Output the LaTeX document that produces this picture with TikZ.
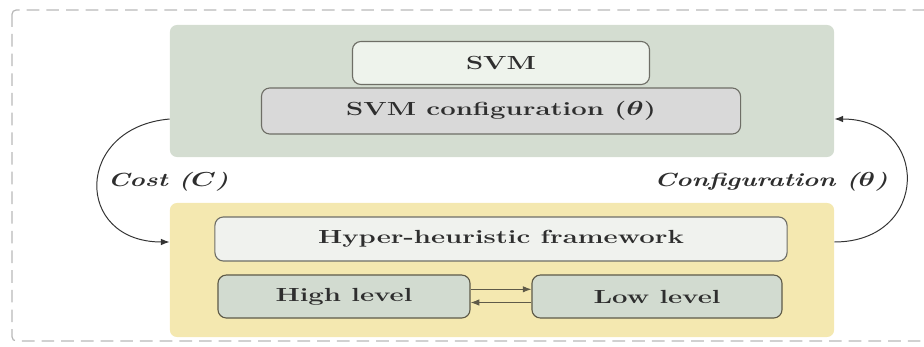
\documentclass[tikz,border=0pt]{standalone}
\usepackage{amsmath,amssymb}
\usepackage{xcolor}
\usepackage{tikz}
\usetikzlibrary{arrows.meta,positioning,calc}
\definecolor{SvmGreen}{HTML}{D4DDD1}
\definecolor{HhYellow}{HTML}{F4E8B0}
\definecolor{SvmFill}{HTML}{EEF3EC}
\definecolor{ConfFill}{HTML}{D9D9D9}
\definecolor{HhFill}{HTML}{F0F2EE}
\definecolor{LevelFill}{HTML}{D2DBD0}
\definecolor{BoxEdge}{HTML}{6E6E66}
\definecolor{LevelEdge}{HTML}{5E5A48}
\definecolor{DashGray}{HTML}{B8B8B8}
\definecolor{TextGray}{HTML}{2E2E2E}
\newcommand{\widetxt}[1]{\scalebox{1.45}[1]{#1}}
\newcommand{\widelbl}[1]{\scalebox{1.38}[1]{#1}}

\begin{document}
\begin{tikzpicture}[x=0.025cm, y=-0.025cm, >=Latex,
  font=\fontsize{13.5}{16}\selectfont\bfseries\boldmath,
  panel/.style={rounded corners=5pt, minimum width=16.6cm, inner sep=0pt},
  box/.style={rounded corners=6pt, draw=BoxEdge, line width=0.8pt, inner sep=0pt, text=TextGray},
  lbl/.style={text=TextGray, font=\fontsize{13.5}{16}\selectfont\bfseries\itshape\boldmath},
  loop/.style={->, line width=0.7pt, black!80, looseness=2},
  swap/.style={->, line width=0.7pt, LevelEdge}]
\useasboundingbox (0,0) rectangle (924,347);
\draw[DashGray, dash pattern=on 9pt off 5pt, rounded corners=3pt, line width=0.9pt] (12,10) rectangle (940,341);

\node[panel, fill=SvmGreen, minimum height=3.3cm] (svmpanel) at (502,91) {};
\node[panel, fill=HhYellow, minimum height=3.35cm] (hhpanel) at (502,270) {};

\node[box, fill=SvmFill, minimum width=7.425cm, minimum height=1.075cm] (svm) at (501,63) {\widetxt{SVM}};
\node[box, fill=ConfFill, minimum width=11.975cm, minimum height=1.15cm] (conf) at (501,111) {\widetxt{SVM configuration ($\theta$)}};
\node[box, fill=HhFill, minimum width=14.3cm, minimum height=1.1cm] (hhf) at (501,239) {\widetxt{Hyper-heuristic framework}};
\node[box, draw=LevelEdge, fill=LevelFill, minimum width=6.3cm, minimum height=1.075cm] (high) at (344,296.5) {\widetxt{High level}};
\node[box, draw=LevelEdge, fill=LevelFill, minimum width=6.25cm, minimum height=1.075cm] (low) at (657,296.5) {\widetxt{Low level}};

\node[lbl] (cost) at (168,182) {\widelbl{Cost ($C$)}};
\node[lbl] (config) at (771,182) {\widelbl{Configuration ($\theta$)}};

\draw[loop] ([yshift=-0.7cm]svmpanel.west) to[out=185,in=180] ([yshift=0.7cm]hhpanel.west);
\draw[loop] ([yshift=0.7cm]hhpanel.east) to[out=0,in=0] ([yshift=-0.7cm]svmpanel.east);

\draw[swap] ([yshift=0.18cm]high.east) -- ([yshift=0.18cm]low.west);
\draw[swap] ([yshift=-0.15cm]low.west) -- ([yshift=-0.15cm]high.east);

\end{tikzpicture}
\end{document}
